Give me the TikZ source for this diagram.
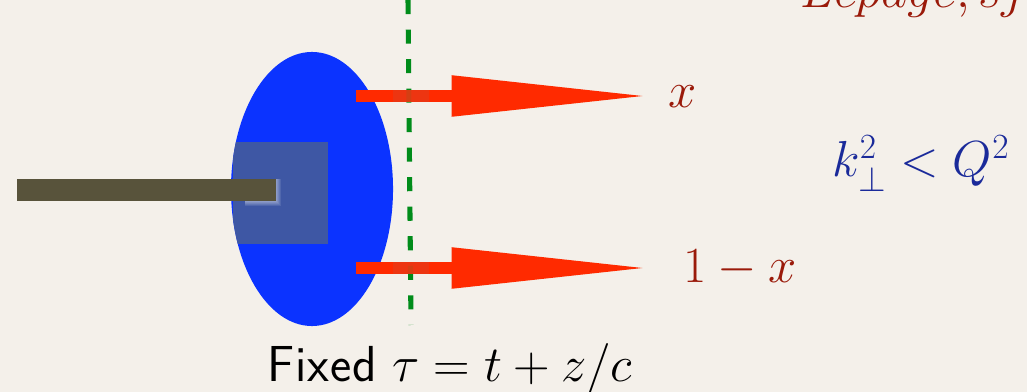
\RequirePackage{fix-cm}
\documentclass[tikz,border=0pt]{standalone}
\usepackage{amsmath,amssymb}
\usepackage{xcolor}
\usepackage{tikz}
\usetikzlibrary{arrows.meta,shapes.geometric}
\definecolor{SlideBg}{HTML}{F4F0EA}
\definecolor{BlobBlue}{HTML}{0B33FF}
\definecolor{CoreGray}{HTML}{3E57A4}
\definecolor{RodOlive}{HTML}{58533B}
\definecolor{FrontGreen}{HTML}{008C1A}
\definecolor{PartonRed}{HTML}{FF2A00}
\definecolor{LabelRed}{HTML}{9A1A0A}
\definecolor{LabelBlue}{HTML}{1A2A9A}
\tikzset{
  parton/.style={draw=PartonRed, line width=8.5pt,
    -{Triangle[length=141pt,width=27pt]}},
  front/.style={draw=FrontGreen, line width=3.6pt,
    dash pattern=on 10pt off 11pt},
  bigtext/.style={font=\fontsize{36}{42}\selectfont, inner sep=0pt}
}

\begin{document}
\begin{tikzpicture}[x=0.025cm, y=-0.025cm,
  overlap/.style={fill=PartonRed!85!gray, opacity=0.9}
]
\fill[SlideBg] (0,0) rectangle (1027,392);
\useasboundingbox (0,0) rectangle (1027,392);
\clip (0,0) rectangle (1027,392);

\node[ellipse, fill=BlobBlue, inner sep=0pt, minimum width=4.05cm, minimum height=6.85cm] (hadron) at (312,189) {};
\begin{scope}
  \clip (hadron.center) ellipse [x radius=81, y radius=137];
  \fill[CoreGray] (233,142) rectangle (328,244);
\end{scope}
\foreach \k in {1,...,5}
  \fill[white, opacity=0.1] (245,179) rectangle (276+\k,201+\k);
\fill[RodOlive] (17,179) rectangle (276,201);

\coordinate (qstart) at (356,96);
\coordinate (qend) at (650,96);
\coordinate (qbstart) at (356,268);
\coordinate (qbend) at (650,268);
\draw[parton] (qstart) -- (qend);
\draw[parton] (qbstart) -- (qbend);

\coordinate (ftop) at (408,0);
\coordinate (fbot) at (411,325);
\draw[front] (ftop) -- (fbot);
\fill[overlap] (393,90) rectangle (429,102);
\fill[overlap] (393,262) rectangle (429,274);

\node[bigtext, text=LabelRed] (xlab) at (683,97) {$x$};
\node[bigtext, text=LabelRed] (xblab) at (740,268) {$1-x$};
\node[bigtext, text=LabelBlue, anchor=base west] (kcut) at (832,177) {$k_\perp^2 < Q^2$};
\node[bigtext, anchor=base west] (tau) at (267,382) {\textsf{F\kern0.02em i\kern0.02em x\kern0.02em e\kern0.02em d}\hspace{0.3em}$\tau = t + z/c$};
\node[bigtext, text=LabelRed, anchor=base west] (cite) at (800,8) {$Lepage, sjb$};
\end{tikzpicture}
\end{document}
